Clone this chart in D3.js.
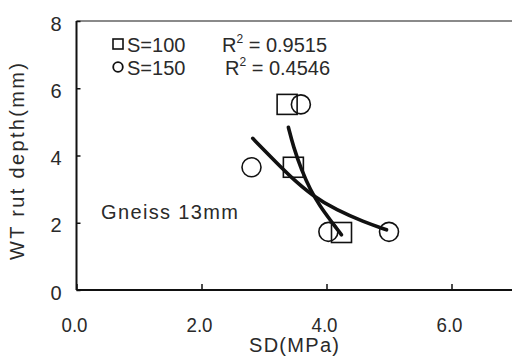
<!DOCTYPE html>
<html>
<head>
<meta charset="utf-8">
<script src="https://cdn.jsdelivr.net/npm/d3@7"></script>
<style>
  body { margin: 0; background: #fff; }
  text { font-family: "Liberation Sans", Arial, sans-serif; fill: #2a2a2a; }
</style>
</head>
<body>
<div id="chart"></div>
<script>
const xTicks = [0, 2, 4, 6];
const yTicks = [0, 2, 4, 6, 8];

// measured points
const s100 = [[3.37, 5.52], [3.47, 3.65], [4.24, 1.71]];
const s150 = [[3.59, 5.52], [2.80, 3.65], [4.03, 1.73], [5.00, 1.73]];

// trend lines
const fit100 = [[3.39, 4.84], [3.47, 4.26], [3.60, 3.57], [3.74, 2.98], [3.90, 2.48], [4.06, 2.08], [4.24, 1.64]];
const fit150 = [[2.82, 4.51], [3.10, 3.97], [3.42, 3.37], [3.79, 2.78], [4.16, 2.38], [4.59, 2.03], [4.96, 1.79]];

const legendLabels = ['S=100', 'S=150'];
const r2Labels = ['0.9515', '0.4546'];

const width = 512, height = 360;
const fs = 20;
const svg = d3.select('#chart').append('svg').attr('width', width).attr('height', height);

const x = d3.scaleLinear().domain([0, 8]).range([76.5, 576.5]);
const y = d3.scaleLinear().domain([0, 8]).range([290, 21]);

// top border
svg.append('line').attr('x1', x(0)).attr('x2', width).attr('y1', y(8)).attr('y2', y(8))
  .attr('stroke', '#8a8a8a').attr('stroke-width', 2);

const xAxis = svg.append('g').attr('transform', `translate(0,${y(0)})`)
  .call(d3.axisBottom(x).tickValues(xTicks).tickSize(-6).tickFormat(d3.format('.1f')));
const yAxis = svg.append('g').attr('transform', `translate(${x(0)},0)`)
  .call(d3.axisLeft(y).tickValues(yTicks).tickSize(-4).tickFormat(d3.format('d')));

[xAxis, yAxis].forEach(g => {
  g.select('.domain').attr('stroke', '#111').attr('stroke-width', 2);
  g.selectAll('.tick line').attr('stroke', '#111').attr('stroke-width', 1.5);
  g.selectAll('.tick text').attr('font-size', fs).attr('fill', '#2a2a2a')
    .attr('font-family', '"Liberation Sans", Arial, sans-serif');
});
xAxis.select('.domain').attr('d', `M${x(0)},0H${width}`);
xAxis.selectAll('.tick text').attr('dy', 0).attr('y', 42).attr('dx', -2.5)
  .attr('textLength', 26).attr('lengthAdjust', 'spacingAndGlyphs');
yAxis.select('.domain').attr('d', `M0,${y(0)}V${y(8)}`);
yAxis.selectAll('.tick text').attr('x', -15).attr('dy', '0.45em');

// trend lines
const line = d3.line().x(d => x(d[0])).y(d => y(d[1])).curve(d3.curveBasis);
[fit100, fit150].forEach(f => {
  svg.append('path').attr('d', line(f)).attr('fill', 'none')
    .attr('stroke', '#111').attr('stroke-width', 3.6).attr('stroke-linecap', 'round');
});

// markers
svg.selectAll('.sq').data(s100).join('rect').attr('class', 'sq')
  .attr('x', d => x(d[0]) - 10).attr('y', d => y(d[1]) - 10)
  .attr('width', 20).attr('height', 20)
  .attr('fill', 'none').attr('stroke', '#111').attr('stroke-width', 1.6);
svg.selectAll('.ci').data(s150).join('circle').attr('class', 'ci')
  .attr('cx', d => x(d[0])).attr('cy', d => y(d[1])).attr('r', 9.5)
  .attr('fill', 'none').attr('stroke', '#111').attr('stroke-width', 1.6);

// legend
svg.append('rect').attr('x', 113).attr('y', 39).attr('width', 10).attr('height', 10)
  .attr('fill', 'none').attr('stroke', '#111').attr('stroke-width', 1.6);
svg.append('circle').attr('cx', 118).attr('cy', 67).attr('r', 4.8)
  .attr('fill', 'none').attr('stroke', '#111').attr('stroke-width', 1.8);

legendLabels.forEach((t, i) => {
  svg.append('text').attr('x', 127).attr('y', 52 + i * 23).attr('font-size', fs).text(t);
});
r2Labels.forEach((t, i) => {
  const tx = svg.append('text').attr('x', 222 + i * 3).attr('y', 52 + i * 23).attr('font-size', fs);
  tx.append('tspan').text('R');
  tx.append('tspan').attr('font-size', 12).attr('dy', -9).text('2');
  tx.append('tspan').attr('dy', 9).text(' = ' + t);
});

svg.append('text').attr('x', 101).attr('y', 219).attr('font-size', fs)
  .attr('textLength', 137).attr('lengthAdjust', 'spacing').text('Gneiss 13mm');

// axis titles
svg.append('text').attr('x', 249).attr('y', 352)
  .attr('font-size', fs).attr('textLength', 90).attr('lengthAdjust', 'spacing').text('SD(MPa)');
svg.append('text').attr('transform', 'translate(24,260) rotate(-90)')
  .attr('font-size', fs).attr('textLength', 197).attr('lengthAdjust', 'spacing').text('WT rut depth(mm)');
</script>
</body>
</html>
